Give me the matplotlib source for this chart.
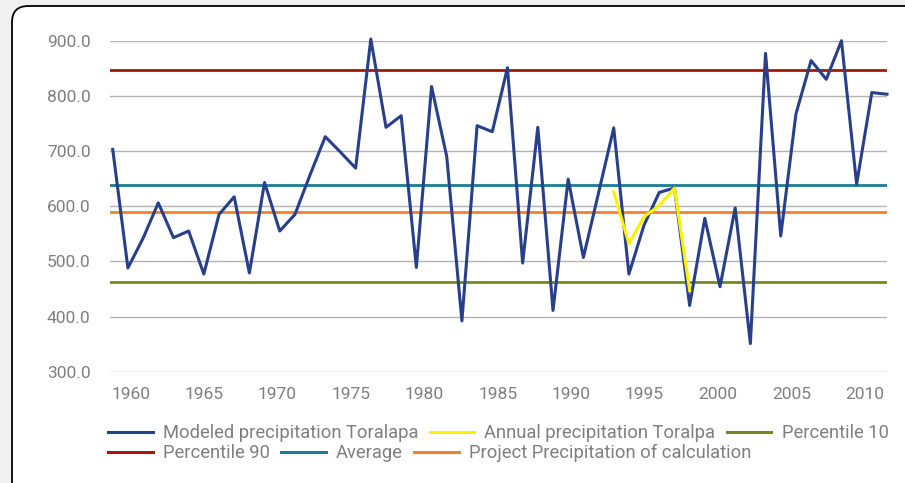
import numpy as np
import matplotlib.pyplot as plt
from matplotlib.patches import FancyBboxPatch
from matplotlib.lines import Line2D

plt.rcParams['font.family'] = ['Roboto', 'DejaVu Sans']

# data
modeled = [703, 488, 542, 606, 543, 555, 477, 585, 617, 479, 643, 555, 585, 657,
           726, 698, 669, 903, 743, 764, 489, 817, 690, 392, 746, 735, 851, 497,
           743, 411, 649, 507, 624, 742, 477, 566, 625, 633, 420, 578, 454, 597,
           351, 877, 546, 767, 864, 830, 900, 640, 806, 803]
annual_start = 33
annual = [626, 532, 581, 601, 633, 447]
p10 = 463
p90 = 846
average = 638
project = 589
year_labels = ['1960', '1965', '1970', '1975', '1980', '1985', '1990', '1995',
               '2000', '2005', '2010']
yticks = [300, 400, 500, 600, 700, 800, 900]

c_blue = '#283f8c'
c_yellow = '#fff000'
c_green = '#76891e'
c_red = '#a3170f'
c_teal = '#167f98'
c_orange = '#f5802a'
c_text = '#7f7f7f'

W, H = 905, 483
fig = plt.figure(figsize=(W / 100, H / 100), dpi=100)
fig.patch.set_facecolor('#f0f0f0')

box = FancyBboxPatch((12 / W, -20 / H), (W + 40) / W, (H - 6 + 20) / H,
                     boxstyle='round,pad=0,rounding_size=0.018',
                     transform=fig.transFigure, facecolor='white',
                     edgecolor='black', linewidth=1.3, mutation_aspect=W / H,
                     zorder=-5)
fig.patches.append(box)

ax = fig.add_axes([110 / W, 111.3 / H, 777 / W, 331 / H])
ax.set_facecolor('none')

x = np.arange(len(modeled))
xa = np.arange(annual_start, annual_start + len(annual))

for yv in yticks:
    ax.axhline(yv, color='#b3b3b3', lw=1, zorder=1)

ax.axhline(p10, color=c_green, lw=2, zorder=2)
ax.axhline(p90, color=c_red, lw=2, zorder=2)
ax.axhline(average, color=c_teal, lw=2, zorder=2)
ax.axhline(project, color=c_orange, lw=2, zorder=2)
ax.plot(x, modeled, color=c_blue, lw=2.2, zorder=3, clip_on=False)
ax.plot(xa, annual, color=c_yellow, lw=2.2, zorder=4, clip_on=False)

ax.set_ylim(300, 900)
ax.set_xlim(-0.18, 51)
ax.set_yticks(yticks)
ax.set_yticklabels([f'{v:.1f}' for v in yticks])
ax.set_xticks(np.linspace(1.185, 49.53, len(year_labels)))
ax.set_xticklabels(year_labels)
ax.tick_params(axis='both', length=0, labelsize=12.5, labelcolor=c_text)
ax.tick_params(axis='y', pad=14)
ax.tick_params(axis='x', pad=11)
for s in ax.spines.values():
    s.set_visible(False)

def h(c):
    return Line2D([], [], color=c, lw=2.2)

kw = dict(frameon=False, fontsize=13.2, labelcolor=c_text, handlelength=2.45,
          handletextpad=0.55, columnspacing=0.6, borderpad=0, borderaxespad=0,
          loc='center left', ncol=3)
leg1 = fig.legend([h(c_blue), h(c_yellow), h(c_green)],
                  ['Modeled precipitation Toralapa', 'Annual precipitation Toralpa',
                   'Percentile 10'], bbox_to_anchor=(108 / W, 1 - 433 / H), **kw)
fig.legend([h(c_red), h(c_teal), h(c_orange)],
           ['Percentile 90', 'Average', 'Project Precipitation of calculation'],
           bbox_to_anchor=(108 / W, 1 - 453 / H), **kw)

fig.savefig('out.png', dpi=100, facecolor=fig.get_facecolor())
